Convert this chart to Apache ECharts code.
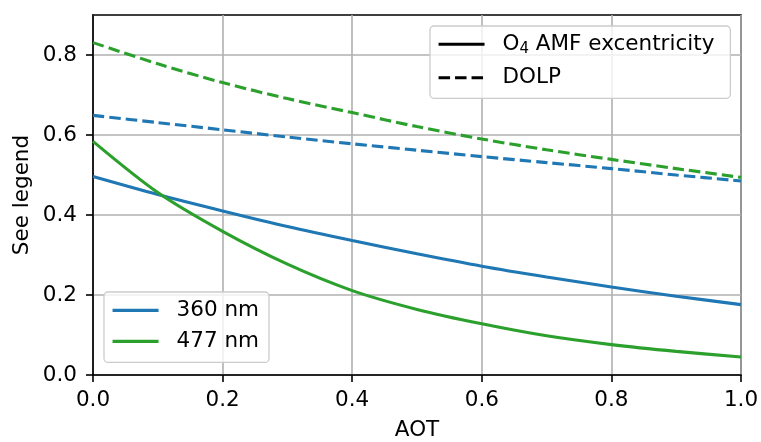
<!DOCTYPE html>
<html>
<head>
<meta charset="utf-8">
<script src="https://cdn.jsdelivr.net/npm/echarts@6/dist/echarts.min.js"></script>
<style>
html,body{margin:0;padding:0;background:#fff;}
#c{width:761px;height:442px;}
</style>
</head>
<body>
<div id="c"></div>
<script>
// ---- data ----
const aot      = [0.0, 0.1, 0.2, 0.3, 0.4, 0.5, 0.6, 0.7, 0.8, 0.9, 1.0];
const amf360   = [0.496, 0.451, 0.410, 0.371, 0.336, 0.303, 0.272, 0.245, 0.220, 0.197, 0.176];
const amf477   = [0.584, 0.456, 0.359, 0.277, 0.211, 0.164, 0.128, 0.098, 0.076, 0.059, 0.045];
const dolp360  = [0.649, 0.631, 0.613, 0.595, 0.578, 0.562, 0.546, 0.531, 0.516, 0.500, 0.485];
const dolp477  = [0.831, 0.778, 0.731, 0.691, 0.656, 0.621, 0.590, 0.563, 0.539, 0.516, 0.494];
const xTicks   = [0.0, 0.2, 0.4, 0.6, 0.8, 1.0];
const yTicks   = [0.0, 0.2, 0.4, 0.6, 0.8];
const styleNames = ['O4 AMF excentricity', 'DOLP'];
const waveNames  = ['360 nm', '477 nm'];

const BLUE = '#1f77b4', GREEN = '#2ca02c';
const FONT = 'DejaVu Sans';
const FS = 21.5;
const pairs = (xs, ys) => xs.map((x, i) => [x, ys[i]]);

const lineSeries = (name, data, color, dashed) => ({
  name: name, type: 'line', data: data, color: color,
  symbol: 'none', smooth: 0.3, silent: true, animation: false,
  lineStyle: {width: 3.1, color: color, type: dashed ? [11.5, 5] : 'solid', cap: 'butt'},
  z: 3
});

const legendCommon = {
  orient: 'vertical',
  itemWidth: 46, itemHeight: 14,
  backgroundColor: 'rgba(255,255,255,0.8)',
  borderColor: '#cccccc', borderWidth: 1.3, borderRadius: 4,
  itemStyle: {opacity: 0},
  lineStyle: {width: 3.1},
  textStyle: {
    fontFamily: FONT, fontSize: FS, color: '#000', lineHeight: 24, padding: [0, 0, 0, 13],
    rich: {
      n: {fontFamily: FONT, fontSize: FS, color: '#000', lineHeight: 24},
      s: {fontFamily: FONT, fontSize: 15, color: '#000', lineHeight: 24, padding: [9, 0, 0, 0]}
    }
  },
  formatter: name => name === 'O4 AMF excentricity' ? '{n|O}{s|4}{n| AMF excentricity}' : name,
  selectedMode: false,
  z: 10
};

const chart = echarts.init(document.getElementById('c'), null, {renderer: 'canvas'});
chart.setOption({
  animation: false,
  backgroundColor: '#fff',
  grid: {left: 93, right: 20, top: 15, bottom: 67, outerBoundsMode: 'none', containLabel: false,
         show: true, borderColor: '#000', borderWidth: 1.6, backgroundColor: 'transparent'},
  xAxis: {
    type: 'value', min: 0, max: 1, interval: 0.2,
    name: 'AOT', nameLocation: 'middle', nameGap: 44, nameMoveOverlap: false,
    nameTextStyle: {fontFamily: FONT, fontSize: FS, color: '#000'},
    axisLine: {show: true, onZero: false, lineStyle: {color: '#000', width: 1.6}},
    axisTick: {show: true, inside: false, length: 7, lineStyle: {color: '#000', width: 1.6}, customValues: xTicks},
    axisLabel: {fontFamily: FONT, fontSize: FS, color: '#000', margin: 14, customValues: xTicks, formatter: v => v.toFixed(1)},
    splitLine: {show: true, lineStyle: {color: '#b0b0b0', width: 1.6}}
  },
  yAxis: {
    type: 'value', min: 0, max: 0.9,
    name: 'See legend', nameLocation: 'middle', nameGap: 60, nameMoveOverlap: false,
    nameTextStyle: {fontFamily: FONT, fontSize: FS, color: '#000'},
    axisLine: {show: true, onZero: false, lineStyle: {color: '#000', width: 1.6}},
    axisTick: {show: true, inside: false, length: 7, lineStyle: {color: '#000', width: 1.6}, customValues: yTicks},
    axisLabel: {fontFamily: FONT, fontSize: FS, color: '#000', margin: 16, customValues: yTicks, formatter: v => v.toFixed(1)},
    splitLine: {show: true, lineStyle: {color: '#b0b0b0', width: 1.6}}
  },
  legend: [
    Object.assign({}, legendCommon, {
      data: styleNames, left: 430, top: 26, itemGap: 9.4, padding: [6.3, 16, 8.6, 7]
    }),
    Object.assign({}, legendCommon, {
      data: waveNames, left: 104, top: 292, itemGap: 7, padding: [6.4, 10, 9, 7]
    })
  ],
  series: [
    lineSeries('360 nm', pairs(aot, amf360), BLUE, false),
    lineSeries('477 nm', pairs(aot, amf477), GREEN, false),
    lineSeries('360 nm DOLP', pairs(aot, dolp360), BLUE, true),
    lineSeries('477 nm DOLP', pairs(aot, dolp477), GREEN, true),
    lineSeries(styleNames[0], [], '#000', false),
    lineSeries(styleNames[1], [], '#000', true)
  ]
});
</script>
</body>
</html>
